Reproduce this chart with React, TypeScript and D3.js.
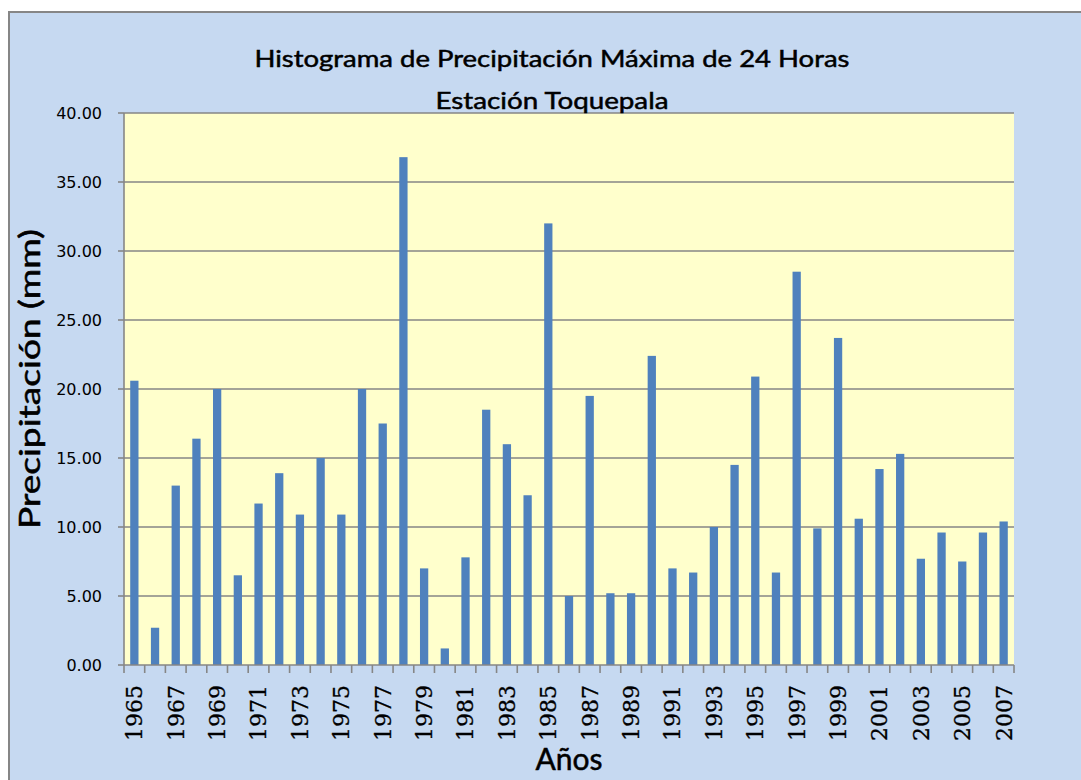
import * as d3 from "d3";

// Precipitación máxima de 24 horas, Estación Toquepala
const YEARS = [
  1965, 1966, 1967, 1968, 1969, 1970, 1971, 1972, 1973, 1974, 1975,
  1976, 1977, 1978, 1979, 1980, 1981, 1982, 1983, 1984, 1985, 1986,
  1987, 1988, 1989, 1990, 1991, 1992, 1993, 1994, 1995, 1996, 1997,
  1998, 1999, 2000, 2001, 2002, 2003, 2004, 2005, 2006, 2007,
];
const PRECIP = [
  20.6, 2.7, 13.0, 16.4, 20.0, 6.5, 11.7, 13.9, 10.9, 15.0, 10.9,
  20.0, 17.5, 36.8, 7.0, 1.2, 7.8, 18.5, 16.0, 12.3, 32.0, 5.0,
  19.5, 5.2, 5.2, 22.4, 7.0, 6.7, 10.0, 14.5, 20.9, 6.7, 28.5,
  9.9, 23.7, 10.6, 14.2, 15.3, 7.7, 9.6, 7.5, 9.6, 10.4,
];
const Y_TICKS = [0, 5, 10, 15, 20, 25, 30, 35, 40];

const TITLE_1 = "Histograma de Precipitación Máxima de 24 Horas";
const TITLE_2 = "Estación Toquepala";
const Y_TITLE = "Precipitación (mm)";
const X_TITLE = "Años";

const W = 1081, H = 780;
const plot = { left: 124, right: 1014, top: 113, bottom: 665 };

const CHART_BG = "#c6d9f1";
const PLOT_BG = "#ffffcc";
const BAR = "#4f81bd";
const GRID = "#868686";
const SANS = "Lato, 'Open Sans', sans-serif";

export default function App() {
  const x = d3.scaleBand<number>()
    .domain(YEARS)
    .range([plot.left, plot.right])
    .paddingInner(0.6)
    .paddingOuter(0.3);
  const y = d3.scaleLinear().domain([0, 40]).range([plot.bottom, plot.top]);
  const step = x.step();
  const boundaries = d3.range(YEARS.length + 1).map(i => plot.left + i * step);
  const cx = (plot.left + plot.right) / 2;
  const cy = (plot.top + plot.bottom) / 2;
  const heavy = { stroke: "#000", strokeWidth: 0.5 };

  return (
    <div>
      <style>{"body{margin:0}"}</style>
      <svg width={W} height={H} style={{ display: "block" }}>
        <rect x={0} y={0} width={W} height={H} fill="#fff" />
        <rect x={9} y={12} width={W + 20} height={H + 20} fill={CHART_BG} stroke={GRID} strokeWidth={2} />

        {/* plot area */}
        <rect x={plot.left} y={plot.top} width={plot.right - plot.left} height={plot.bottom - plot.top} fill={PLOT_BG} />

        {/* gridlines + y ticks */}
        {Y_TICKS.map(t => (
          <g key={t}>
            {t > 0 && (
              <line x1={plot.left} x2={plot.right} y1={y(t)} y2={y(t)} stroke={GRID} strokeWidth={1.6} />
            )}
            <line x1={plot.left - 6} x2={plot.left} y1={y(t)} y2={y(t)} stroke={GRID} strokeWidth={1.6} />
            <text x={102} y={y(t)} dy="0.36em" textAnchor="end"
              fontFamily="'DejaVu Sans', sans-serif" fontSize={16} fill="#000">
              {t.toFixed(2)}
            </text>
          </g>
        ))}

        {/* bars */}
        {YEARS.map((yr, i) => (
          <rect key={yr} x={x(yr)} y={y(PRECIP[i])} width={x.bandwidth()}
            height={y(0) - y(PRECIP[i])} fill={BAR} />
        ))}

        {/* axes */}
        <line x1={plot.left} x2={plot.left} y1={plot.top} y2={plot.bottom} stroke={GRID} strokeWidth={1.6} />
        <line x1={plot.left} x2={plot.right} y1={plot.bottom} y2={plot.bottom} stroke={GRID} strokeWidth={1.6} />
        {boundaries.map((bx, i) => (
          <line key={i} x1={bx} x2={bx} y1={plot.bottom} y2={plot.bottom + 8} stroke={GRID} strokeWidth={1.6} />
        ))}

        {/* x tick labels, every other year */}
        {YEARS.map((yr, i) => i % 2 === 0 && (
          <text key={yr}
            transform={`translate(${x(yr)! + x.bandwidth() / 2},685) rotate(-90)`}
            dy="0.36em" textAnchor="end"
            fontFamily="'DejaVu Serif', serif" fontSize={22} fill="#000"
            stroke="#000" strokeWidth={0.3}>
            {yr}
          </text>
        ))}

        {/* titles */}
        <text x={552} y={67} textAnchor="middle" fontFamily={SANS} fontSize={24}
          textLength={595} lengthAdjust="spacingAndGlyphs" fill="#000" {...heavy}>{TITLE_1}</text>
        <text x={552} y={109} textAnchor="middle" fontFamily={SANS} fontSize={24}
          textLength={233} lengthAdjust="spacingAndGlyphs" fill="#000" {...heavy}>{TITLE_2}</text>
        <text transform={`translate(40,${cy - 10}) rotate(-90)`} textAnchor="middle"
          fontFamily={SANS} fontSize={28} textLength={300} lengthAdjust="spacingAndGlyphs"
          fill="#000" {...heavy}>{Y_TITLE}</text>
        <text x={cx} y={770} textAnchor="middle" fontFamily={SANS} fontSize={30}
          textLength={67} lengthAdjust="spacingAndGlyphs" fill="#000" {...heavy}>{X_TITLE}</text>
      </svg>
    </div>
  );
}
